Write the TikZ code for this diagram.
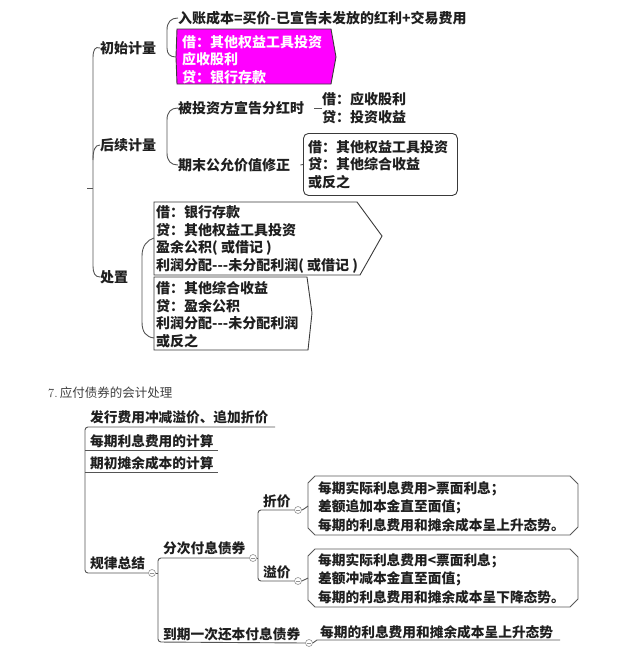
\documentclass[tikz,border=0pt]{standalone}
\usepackage{fontspec}
\newfontfamily\cjk{Noto Sans CJK SC}
\usetikzlibrary{calc}
\definecolor{lncol}{HTML}{555555}
\definecolor{bxcol}{HTML}{3A3A3A}
\definecolor{mag}{HTML}{FF00FF}
\tikzset{
 tt/.style={inner sep=0pt, anchor=west, align=left, font=\cjk\bfseries\fontsize{14}{17.6}\selectfont, text=black!88},
 bt/.style={inner sep=0pt, anchor=west, align=left, font=\cjk\bfseries\fontsize{13.7}{18.5}\selectfont, text=black!88},
 lk/.style={draw=lncol, line width=0.9pt},
 bk/.style={draw=bxcol, line width=0.9pt},
 btn/.style={circle, draw=gray!85, fill=white, minimum size=7pt, inner sep=0pt, line width=0.6pt,
   path picture={\draw[gray!85, line width=0.5pt] ([xshift=-2pt]path picture bounding box.center) -- ([xshift=2pt]path picture bounding box.center);}},
}
\begin{document}
\begin{tikzpicture}[x=1pt,y=-1pt]
\useasboundingbox (0,0) rectangle (640,670);
\fill[white] (0,0) rectangle (640,670);

% ---------- top section ----------
\node[tt] (r1) at (100,48) {初始计量};
\node[tt] (r2) at (100,145) {后续计量};
\node[tt] (r3) at (100,277) {处置};
\coordinate (tick) at (87,188);
\draw[lk] (r1.west) .. controls (95,46) and (93,50) .. (93,58) -- (93,266) .. controls (93,273) and (95,277) .. (r3.west);
\draw[lk] (93,160) .. controls (93,150) and (95,145) .. (r2.west);
\draw[lk] (93,188) -- (tick);

% initial measurement
\node[tt] (a1) at (178,18) {入账成本=买价-已宣告未发放的红利+交易费用};
\coordinate (magL) at (176,57);
\draw[bk, fill=mag] (177,29) -- (331,29) -- (336,57) -- (331,84) -- (177,84) -- (magL) -- cycle;
\node[tt, text=white] (a2) at (182,59.5) {借：其他权益工具投资\\应收股利\\贷：银行存款};
\draw[lk] (a1.west) .. controls (171,18) and (167,22) .. (167,30) -- (167,48) .. controls (167,54) and (170,57) .. (magL);

% subsequent measurement
\node[tt] (b1) at (178,108) {被投资方宣告分红时};
\node[tt] (b2) at (178,165) {期末公允价值修正};
\draw[lk] (b1.west) .. controls (171,108) and (167,112) .. (167,120) -- (167,153) .. controls (167,161) and (171,165) .. (b2.west);
\node[tt] (b1l) at (322,108) {借：应收股利\\贷：投资收益};
\draw[lk] ($(b1.east)+(10,0)$) -- (b1l.west);
\node[bk, rounded corners=5pt, anchor=north west, minimum width=154pt, minimum height=62pt] (b2box) at (303,133) {};
\node[tt] (b2l) at (308,164.5) {借：其他权益工具投资\\贷：其他综合收益\\或反之};
\draw[lk] ($(b2.east)+(10,0)$) -- (b2box.west);

% disposal
\coordinate (c1L) at (154,238);
\coordinate (c2L) at (154,338);
\draw[bk, fill=white] (154,202) -- (357,202) -- (382,236) -- (360,275) -- (154,275) -- cycle;
\draw[bk, fill=white] (154,277) -- (307,277) -- (312,313) -- (308,350) -- (154,350) -- cycle;
\node[tt] (c1) at (156,239.5) {借：银行存款\\贷：其他权益工具投资\\盈余公积( 或借记 )\\利润分配---未分配利润( 或借记 )};
\node[tt] (c2) at (156,314.5) {借：其他综合收益\\贷：盈余公积\\利润分配---未分配利润\\或反之};
\draw[lk] (c1L) .. controls (147,240) and (142,246) .. (142,256) -- (142,322) .. controls (142,332) and (146,337) .. (c2L);

% ---------- bottom section ----------
\node[anchor=west, inner sep=0pt, text=black!75, font=\fontsize{12.5}{14}\selectfont] (ttl) at (48,393) {7.\,{\cjk 应付债券的会计处理}};

\node[bt] (d1) at (90,417) {发行费用冲减溢价、追加折价};
\node[bt] (d2) at (90,441) {每期利息费用的计算};
\node[bt] (d3) at (90,463) {期初摊余成本的计算};
\node[bt] (d4) at (90,563) {规律总结};
\node[btn] (k1) at (152,573) {};
\coordinate (d1e) at (275,427);
\draw[lk, rounded corners=3pt] (d1e) -- (85,427) -- (85,573) -- (k1.west);
\draw[lk] (85,450) -- (218,450);
\draw[lk] (85,472) -- (218,472);

\node[bt] (e1) at (163,548) {分次付息债券};
\node[bt] (e2) at (163,634) {到期一次还本付息债券};
\node[btn] (k2) at (253,558) {};
\node[btn] (k3) at (309,643) {};
\draw[lk] (k1.east) -- (158,573);
\draw[lk, rounded corners=3pt] (k2.west) -- (158,558) -- (158,642) -- (k3.west);

\node[bt] (f1) at (263,501) {折价};
\node[bt] (f2) at (263,572) {溢价};
\node[btn] (k4) at (298,510) {};
\node[btn] (k5) at (298,581) {};
\draw[lk] (k2.east) -- (258,558);
\draw[lk, rounded corners=3pt] (k4.west) -- (258,510) -- (258,581) -- (k5.west);

\coordinate (g1L) at (308,506);
\coordinate (g2L) at (308,578);
\draw[bk, draw=gray!70!black] (315,476) -- (570,476) -- (578,484) -- (578,527) -- (570,535) -- (315,535) -- (308,528) -- (308,483) -- cycle;
\draw[bk, draw=gray!70!black] (315,549) -- (570,549) -- (578,557) -- (578,599) -- (570,607) -- (315,607) -- (308,600) -- (308,556) -- cycle;
\node[bt] (g1) at (318,506.5) {每期实际利息费用>票面利息；\\差额追加本金直至面值；\\每期的利息费用和摊余成本呈上升态势。};
\node[bt] (g2) at (318,578.5) {每期实际利息费用<票面利息；\\差额冲减本金直至面值；\\每期的利息费用和摊余成本呈下降态势。};
\draw[lk] (k4.east) .. controls (304,509) .. (g1L);
\draw[lk] (k5.east) .. controls (304,580) .. (g2L);

\node[bt] (h) at (320,632) {每期的利息费用和摊余成本呈上升态势};
\draw[lk] (k3.east) -- (317,640) -- (560,640);
\end{tikzpicture}
\end{document}
